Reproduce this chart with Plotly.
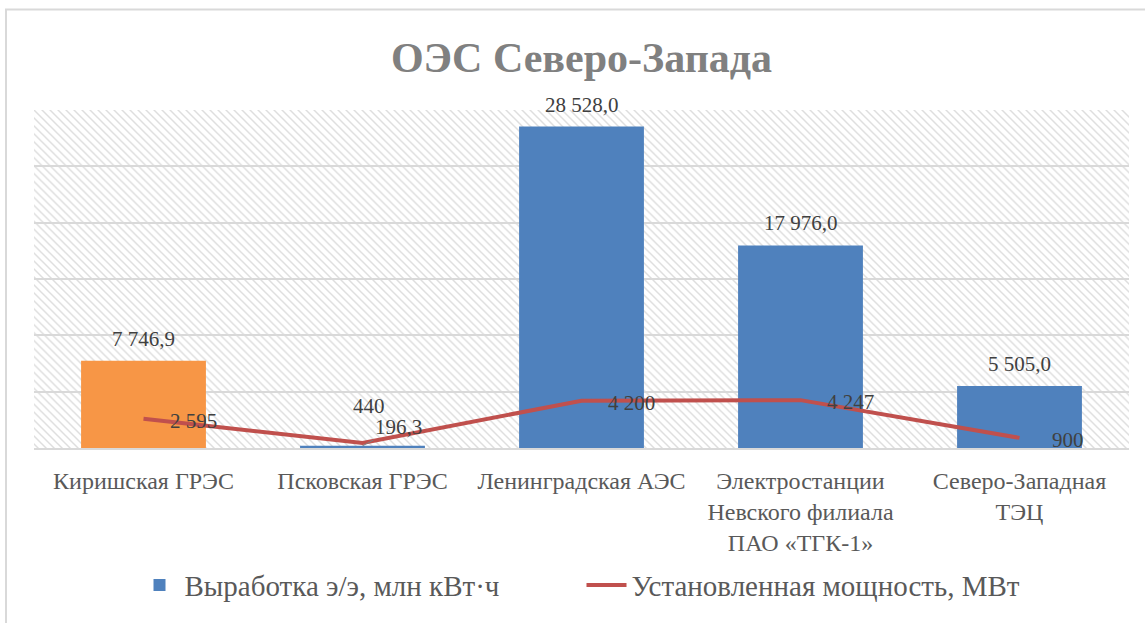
import base64
import plotly.graph_objects as go

# ---------------- data ----------------
categories = [
    "Киришская ГРЭС",
    "Псковская ГРЭС",
    "Ленинградская АЭС",
    "Электростанции<br>Невского филиала<br>ПАО «ТГК-1»",
    "Северо-Западная<br>ТЭЦ",
]
generation = [7746.9, 196.3, 28528.0, 17976.0, 5505.0]   # Выработка э/э, млн кВт·ч
capacity = [2595, 440, 4200, 4247, 900]                  # Установленная мощность, МВт
series_names = ["Выработка э/э, млн кВт·ч", "Установленная мощность, МВт"]
title_text = "ОЭС Северо-Запада"
highlight_index = 0  # bar drawn in orange


def fmt(v, d):
    return f"{v:,.{d}f}".replace(",", " ").replace(".", ",")


# ---------------- style ----------------
W, H = 1145, 623
ML, MR, MT, MB = 34, 16, 110, 173
PW, PH = W - ML - MR, H - MT - MB
FONT = "Liberation Serif, Times New Roman, Times, DejaVu Serif, serif"
BLUE, ORANGE, RED = "#4F81BD", "#F79646", "#C0504D"
GRID = "#d9d9d9"

# hatched plot background (light diagonal stripes)
s = 8
svg = (
    f'<svg xmlns="http://www.w3.org/2000/svg" width="{PW}" height="{PH}" viewBox="0 0 {PW} {PH}">'
    f'<defs><pattern id="p" width="{s}" height="{s}" patternUnits="userSpaceOnUse">'
    f'<path d="M-1,-1 L{s+1},{s+1} M{s-1},-1 L{s+1},1 M-1,{s-1} L1,{s+1}" '
    f'stroke="#dedede" stroke-width="1.5"/></pattern></defs>'
    f'<rect width="{PW}" height="{PH}" fill="#ffffff"/>'
    f'<rect width="{PW}" height="{PH}" fill="url(#p)"/></svg>'
)
hatch_src = "data:image/svg+xml;base64," + base64.b64encode(svg.encode()).decode()

fig = go.Figure()

blue_x = [c for i, c in enumerate(categories) if i != highlight_index]
blue_y = [v for i, v in enumerate(generation) if i != highlight_index]

fig.add_trace(go.Bar(
    x=blue_x, y=blue_y, name=series_names[0],
    marker=dict(color=BLUE, line=dict(width=0)),
    showlegend=True,
))
fig.add_trace(go.Bar(
    x=[categories[highlight_index]], y=[generation[highlight_index]],
    name=series_names[0], marker=dict(color=ORANGE, line=dict(width=0)),
    showlegend=False,
))
fig.add_trace(go.Scatter(
    x=categories, y=capacity, name=series_names[1], mode="lines",
    line=dict(color=RED, width=4),
))

# bar value labels
annotations = []
for i, (c, v) in enumerate(zip(categories, generation)):
    if i == 1:
        annotations.append(dict(
            x=c, y=v, xref="x", yref="y", text=fmt(v, 1),
            showarrow=True, arrowhead=0, arrowwidth=1, arrowcolor="#7f7f7f",
            ax=36, ay=-19, font=dict(family=FONT, size=21, color="#404040"),
        ))
    else:
        annotations.append(dict(
            x=c, y=v, xref="x", yref="y", text=fmt(v, 1), showarrow=False,
            yanchor="middle", yshift=22,
            font=dict(family=FONT, size=21, color="#404040"),
        ))

# line value labels
lbl_dx = [24, 6, 24, 24, 30]
lbl_dy = [-2, 37, -2, -2, -2]
lbl_anchor = ["left", "center", "left", "left", "left"]
for c, v, dx, dy, xa in zip(categories, capacity, lbl_dx, lbl_dy, lbl_anchor):
    annotations.append(dict(
        x=c, y=v, xref="x", yref="y", text=fmt(v, 0), showarrow=False,
        xanchor=xa, yanchor="middle", xshift=dx, yshift=dy,
        font=dict(family=FONT, size=21, color="#404040"),
    ))

fig.update_layout(
    width=W, height=H,
    margin=dict(l=ML, r=MR, t=MT, b=MB),
    paper_bgcolor="white", plot_bgcolor="rgba(0,0,0,0)",
    barmode="overlay", bargap=0.43,
    font=dict(family=FONT),
    title=dict(
        text=title_text, x=0.5, xref="paper", xanchor="center",
        y=1 - 57 / H, yref="container", yanchor="middle",
        font=dict(family=FONT, size=42, color="#808080", weight="bold"),
    ),
    xaxis=dict(
        type="category", categoryorder="array", categoryarray=categories,
        showline=True, linecolor=GRID, linewidth=1.5,
        ticks="", ticklabelstandoff=10, showgrid=False,
        tickfont=dict(family=FONT, size=24, color="#595959"),
    ),
    yaxis=dict(
        range=[0, 30000], dtick=5000, showgrid=True, gridcolor=GRID, gridwidth=1.5,
        showticklabels=False, zeroline=False, showline=False,
    ),
    legend=dict(
        orientation="h", x=0.5, xanchor="center", y=-(588 - (MT + PH)) / PH,
        yanchor="middle", font=dict(family=FONT, size=29, color="#595959"),
        bgcolor="rgba(0,0,0,0)", entrywidth=392, entrywidthmode="pixels",
        itemwidth=40,
    ),
    images=[dict(
        source=hatch_src, xref="x domain", yref="y domain", x=0, y=1,
        sizex=1, sizey=1, xanchor="left", yanchor="top",
        sizing="stretch", layer="below",
    )],
    shapes=[dict(
        type="rect", xref="paper", yref="paper",
        x0=(6 - ML) / PW, x1=(W + 10 - ML) / PW,
        y0=-(H + 10 - (MT + PH)) / PH, y1=((MT + PH) - 9) / PH,
        line=dict(color=GRID, width=2), fillcolor="rgba(0,0,0,0)", layer="below",
    )],
    annotations=annotations,
)

fig.write_html(
    "out.html",
    config={"displayModeBar": False},
    post_script="document.body.style.margin='0';document.body.style.padding='0';",
)
